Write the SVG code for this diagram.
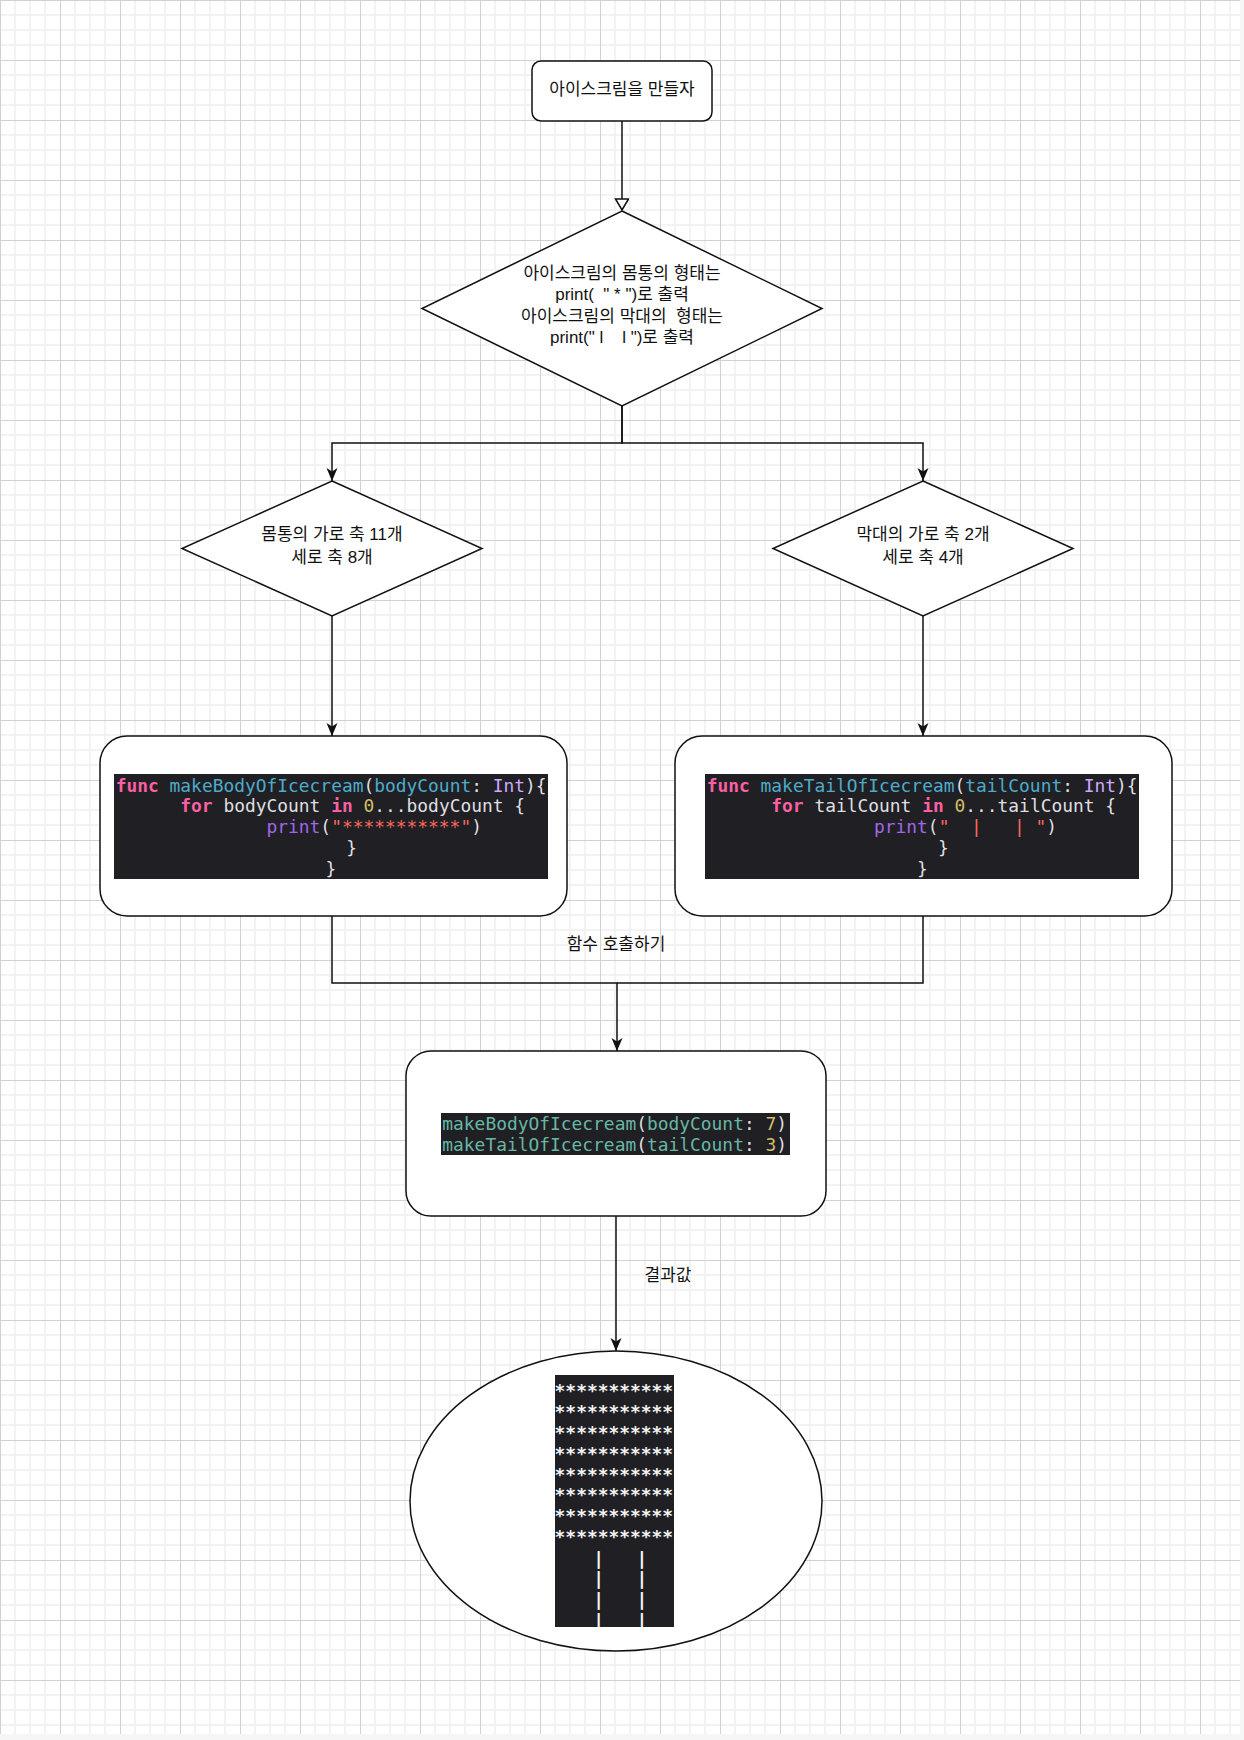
<svg xmlns="http://www.w3.org/2000/svg" width="1244" height="1740" viewBox="0 0 1244 1740">
<style>
.lbl{font-family:"Liberation Sans","Noto Sans CJK KR",sans-serif;font-size:17px;fill:#111;text-anchor:middle}
.shape{fill:#fff;stroke:#111;stroke-width:1.5}
.edge{fill:none;stroke:#111;stroke-width:1.5}
.code{font-family:"DejaVu Sans Mono",monospace;font-size:17.9px;fill:#dfdfe0}
.kw{fill:#fc5fa3;font-weight:bold}
.fn{fill:#4eaccb}
.ty{fill:#d0a8ff}
.num{fill:#d0bf69}
.pr{fill:#a167e6}
.str{fill:#fc6a5d}
.call{fill:#67b7a4}
.term{font-family:"DejaVu Sans Mono",monospace;font-size:17.9px;font-weight:bold;fill:#f4f4f4}
.dark{fill:#1f1f24}
</style>
<defs>
<pattern id="grid" width="60" height="60" patternUnits="userSpaceOnUse">
<path d="M15,0V60M30,0V60M45,0V60M0,15H60M0,30H60M0,45H60" stroke="#f0f0f0" stroke-width="1.5" fill="none"/>
<path d="M0.5,0V60M0,0.5H60" stroke="#d2d2d2" stroke-width="1" fill="none"/>
</pattern>
<marker id="arr" markerUnits="userSpaceOnUse" markerWidth="14" markerHeight="12" refX="13" refY="5.5" orient="auto">
<path d="M0,0 L13,5.5 L0,11 L3.5,5.5 z" fill="#111"/>
</marker>
<marker id="hollow" markerUnits="userSpaceOnUse" markerWidth="14" markerHeight="16" refX="12" refY="7" orient="auto">
<path d="M1,0.5 L12,7 L1,13.5 z" fill="#fff" stroke="#111" stroke-width="1.5"/>
</marker>
<clipPath id="termclip"><rect x="555" y="1375" width="119" height="252"/></clipPath>
</defs>
<rect x="0" y="0" width="1244" height="1740" fill="#f6f6f6"/>
<rect x="0" y="0" width="1240" height="1734" fill="#fff"/>
<rect x="0" y="0" width="1240" height="1734" fill="url(#grid)"/>

<g id="connectors">
<path class="edge" d="M622,121 V210" marker-end="url(#hollow)"/>
<path class="edge" d="M622,406 V443 H332 V481" marker-end="url(#arr)"/>
<path class="edge" d="M622,406 V443 H923 V481" marker-end="url(#arr)"/>
<path class="edge" d="M332,616 V736" marker-end="url(#arr)"/>
<path class="edge" d="M923,616 V736" marker-end="url(#arr)"/>
<path class="edge" d="M332,916 V983 H617 V1051" marker-end="url(#arr)"/>
<path class="edge" d="M923,916 V983 H617"/>
<text class="lbl" x="616" y="950">함수 호출하기</text>
<path class="edge" d="M616,1216 V1351" marker-end="url(#arr)"/>
<text class="lbl" x="668" y="1281">결과값</text>
</g>

<g id="start">
<rect class="shape" x="532" y="61" width="180" height="60" rx="9"/>
<text class="lbl" x="622" y="95">아이스크림을 만들자</text>
</g>

<g id="decision-shape">
<polygon class="shape" points="622,211 822,308.5 622,406 422,308.5"/>
<text class="lbl" xml:space="preserve"><tspan x="622" y="279">아이스크림의 몸통의 형태는</tspan><tspan x="622" y="300">print(  " * ")로 출력</tspan><tspan x="622" y="322">아이스크림의 막대의  형태는</tspan><tspan x="622" y="343">print(" l    l ")로 출력</tspan></text>
</g>

<g id="decision-body">
<polygon class="shape" points="332,481 482,548.5 332,616 182,548.5"/>
<text class="lbl"><tspan x="332" y="540">몸통의 가로 축 11개</tspan><tspan x="332" y="563">세로 축 8개</tspan></text>
</g>

<g id="decision-tail">
<polygon class="shape" points="923,481 1073,548.5 923,616 773,548.5"/>
<text class="lbl"><tspan x="923" y="540">막대의 가로 축 2개</tspan><tspan x="923" y="563">세로 축 4개</tspan></text>
</g>

<g id="func-body">
<rect class="shape" x="100" y="736" width="467" height="180" rx="27"/>
<rect class="dark" x="114" y="774" width="434" height="105"/>
<text class="code" xml:space="preserve" x="115.7" y="791.5"><tspan class="kw">func</tspan> <tspan class="fn">makeBodyOfIcecream</tspan>(<tspan class="fn">bodyCount</tspan>: <tspan class="ty">Int</tspan>){</text>
<text class="code" xml:space="preserve" x="115.7" y="812.3">      <tspan class="kw">for</tspan> bodyCount <tspan class="kw">in</tspan> <tspan class="num">0</tspan>...bodyCount {</text>
<text class="code" xml:space="preserve" x="115.7" y="833"><tspan class="pr">              print</tspan>(<tspan class="str">"***********"</tspan>)</text>
<text class="code" x="351.7" y="853.8" text-anchor="middle">}</text>
<text class="code" x="331" y="874.6" text-anchor="middle">}</text>
</g>

<g id="func-tail">
<rect class="shape" x="675" y="736" width="497" height="180" rx="27"/>
<rect class="dark" x="705" y="774" width="434" height="105"/>
<text class="code" xml:space="preserve" x="706.7" y="791.5"><tspan class="kw">func</tspan> <tspan class="fn">makeTailOfIcecream</tspan>(<tspan class="fn">tailCount</tspan>: <tspan class="ty">Int</tspan>){</text>
<text class="code" xml:space="preserve" x="706.7" y="812.3">      <tspan class="kw">for</tspan> tailCount <tspan class="kw">in</tspan> <tspan class="num">0</tspan>...tailCount {</text>
<text class="code" xml:space="preserve" x="874" y="833"><tspan class="pr">print</tspan>(<tspan class="str">"  |   | "</tspan>)</text>
<text class="code" x="943.3" y="853.8" text-anchor="middle">}</text>
<text class="code" x="922.3" y="874.6" text-anchor="middle">}</text>
</g>

<g id="call">
<rect class="shape" x="406" y="1051" width="420" height="165" rx="25"/>
<rect class="dark" x="441" y="1113" width="349" height="42"/>
<text class="code" xml:space="preserve" x="442.3" y="1130"><tspan class="call">makeBodyOfIcecream</tspan>(<tspan class="call">bodyCount</tspan>: <tspan class="num">7</tspan>)</text>
<text class="code" xml:space="preserve" x="442.3" y="1150.7"><tspan class="call">makeTailOfIcecream</tspan>(<tspan class="call">tailCount</tspan>: <tspan class="num">3</tspan>)</text>
</g>

<g id="result">
<ellipse class="shape" cx="616" cy="1501" rx="206" ry="150"/>
<rect class="dark" x="555" y="1375" width="119" height="252"/>
<g clip-path="url(#termclip)">
<text class="term" x="554.6" y="1397">***********</text>
<text class="term" x="554.6" y="1417.9">***********</text>
<text class="term" x="554.6" y="1438.8">***********</text>
<text class="term" x="554.6" y="1459.6">***********</text>
<text class="term" x="554.6" y="1480.5">***********</text>
<text class="term" x="554.6" y="1501.4">***********</text>
<text class="term" x="554.6" y="1522.3">***********</text>
<text class="term" x="554.6" y="1543.1">***********</text>
<text class="term" x="598.7" y="1564.5" text-anchor="middle">|</text>
<text class="term" x="642" y="1564.5" text-anchor="middle">|</text>
<text class="term" x="598.7" y="1585.3" text-anchor="middle">|</text>
<text class="term" x="642" y="1585.3" text-anchor="middle">|</text>
<text class="term" x="598.7" y="1606.1" text-anchor="middle">|</text>
<text class="term" x="642" y="1606.1" text-anchor="middle">|</text>
<text class="term" x="598.7" y="1626.9" text-anchor="middle">|</text>
<text class="term" x="642" y="1626.9" text-anchor="middle">|</text>
</g>
</g>
</svg>
